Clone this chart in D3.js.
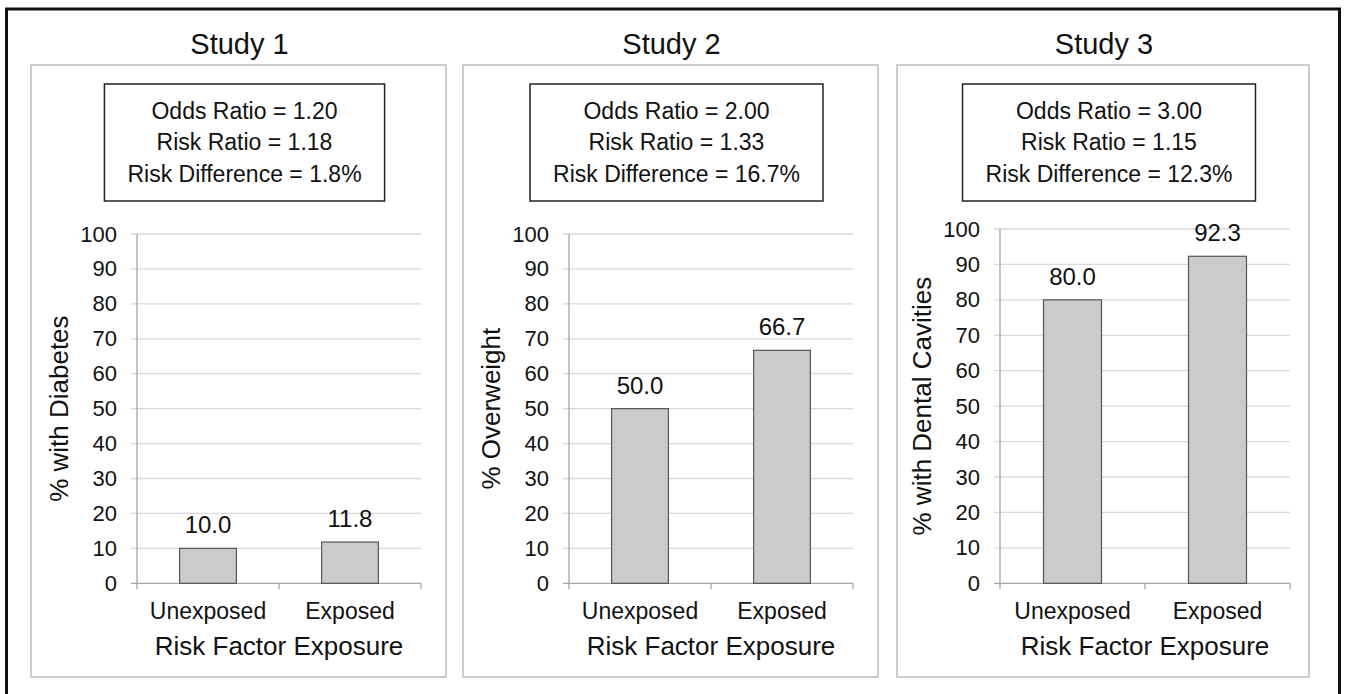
<!DOCTYPE html>
<html>
<head>
<meta charset="utf-8">
<script src="https://cdn.jsdelivr.net/npm/d3@7"></script>
<style>
  html, body { margin: 0; padding: 0; background: #fff; }
  svg { display: block; font-family: "Liberation Sans", Arial, sans-serif; }
</style>
</head>
<body>
<svg id="chart" width="1347" height="694"></svg>
<script>
// ---- data ----
const studies = ["Study 1", "Study 2", "Study 3"];
const categories = ["Unexposed", "Exposed"];
const unexposedPct = [10.0, 50.0, 80.0];
const exposedPct = [11.8, 66.7, 92.3];
const oddsRatios = ["1.20", "2.00", "3.00"];
const riskRatios = ["1.18", "1.33", "1.15"];
const riskDiffs = ["1.8%", "16.7%", "12.3%"];
const yAxisTitles = ["% with Diabetes", "% Overweight", "% with Dental Cavities"];
const yTicks = [0, 10, 20, 30, 40, 50, 60, 70, 80, 90, 100];
const xAxisTitle = "Risk Factor Exposure";

// ---- layout ----
const svg = d3.select("#chart");
const panelLefts = [31, 463, 897];
const panelWidths = [415, 415, 412];
const panelTop = 65, panelBottom = 677;
const plotLeftOff = [106, 106, 103];
const plotRightOff = [390, 390, 393];
const plotTops = [234, 234, 229];
const plotBottom = 583.3;

// outer frame
svg.append("rect")
  .attr("x", 6.5).attr("y", 9).attr("width", 1333).attr("height", 720)
  .attr("fill", "none").attr("stroke", "#111").attr("stroke-width", 3);

studies.forEach((name, i) => {
  const pl = panelLefts[i];
  const pw = panelWidths[i];
  const pcx = pl + pw / 2;

  // title
  svg.append("text")
    .attr("x", pcx + 1).attr("y", 54)
    .attr("text-anchor", "middle")
    .attr("font-size", 29).attr("fill", "#111")
    .text(name);

  // panel border
  svg.append("rect")
    .attr("x", pl).attr("y", panelTop)
    .attr("width", pw).attr("height", panelBottom - panelTop)
    .attr("fill", "#fff").attr("stroke", "#bdbdbd").attr("stroke-width", 1.5);

  // stats box
  const lines = [
    "Odds Ratio = " + oddsRatios[i],
    "Risk Ratio = " + riskRatios[i],
    "Risk Difference = " + riskDiffs[i]
  ];
  const boxG = svg.append("g");
  const boxRect = boxG.append("rect");
  const tcx = pcx + 6;
  const baselines = [119, 150, 182];
  let maxW = 0;
  lines.forEach((t, k) => {
    const el = boxG.append("text")
      .attr("x", tcx).attr("y", baselines[k])
      .attr("text-anchor", "middle")
      .attr("font-size", 23).attr("fill", "#111")
      .text(t);
    maxW = Math.max(maxW, el.node().getComputedTextLength());
  });
  const bw = maxW + 46;
  boxRect.attr("x", tcx - bw / 2).attr("y", 84)
    .attr("width", bw).attr("height", 117)
    .attr("fill", "#fff").attr("stroke", "#222").attr("stroke-width", 1.5);

  // plot
  const x0 = pl + plotLeftOff[i];
  const w = plotRightOff[i] - plotLeftOff[i];
  const y0 = plotTops[i];
  const h = plotBottom - y0;
  const g = svg.append("g").attr("transform", `translate(${x0},${y0})`);

  const x = d3.scaleBand().domain(categories).range([0, w])
    .paddingInner(0.6).paddingOuter(0.3);
  const y = d3.scaleLinear().domain([0, 100]).range([h, 0]);

  // gridlines
  g.selectAll("line.grid").data(yTicks).join("line")
    .attr("class", "grid")
    .attr("x1", -6).attr("x2", w)
    .attr("y1", d => y(d)).attr("y2", d => y(d))
    .attr("stroke", d => d === 0 ? "#a6a6a6" : "#d9d9d9")
    .attr("stroke-width", 1.3);

  // y axis line
  g.append("line")
    .attr("x1", 0).attr("x2", 0).attr("y1", 0).attr("y2", h)
    .attr("stroke", "#a6a6a6").attr("stroke-width", 1.3);

  // x boundary ticks
  g.selectAll("line.xtick").data([0, 1, 2]).join("line")
    .attr("class", "xtick")
    .attr("x1", d => d * x.step()).attr("x2", d => d * x.step())
    .attr("y1", h).attr("y2", h + 6)
    .attr("stroke", "#a6a6a6").attr("stroke-width", 1.3);

  // y tick labels
  const yAxis = g.append("g")
    .call(d3.axisLeft(y).tickValues(yTicks).tickSize(0).tickPadding(20));
  yAxis.select(".domain").remove();
  yAxis.selectAll("text").attr("font-size", 22).attr("fill", "#111")
    .attr("font-family", "Liberation Sans, Arial, sans-serif");

  // x category labels
  const xAxis = g.append("g").attr("transform", `translate(0,${h})`)
    .call(d3.axisBottom(x).tickSize(0).tickPadding(19));
  xAxis.select(".domain").remove();
  xAxis.selectAll("text").attr("font-size", 23).attr("fill", "#111")
    .attr("font-family", "Liberation Sans, Arial, sans-serif");

  // bars
  const vals = [unexposedPct[i], exposedPct[i]];
  g.selectAll("rect.bar").data(vals).join("rect")
    .attr("class", "bar")
    .attr("x", (d, k) => x(categories[k]))
    .attr("width", x.bandwidth())
    .attr("y", d => y(d))
    .attr("height", d => h - y(d))
    .attr("fill", "#cbcbcb").attr("stroke", "#555").attr("stroke-width", 1.2);

  // value labels
  g.selectAll("text.val").data(vals).join("text")
    .attr("class", "val")
    .attr("x", (d, k) => x(categories[k]) + x.bandwidth() / 2)
    .attr("y", d => y(d) - 15)
    .attr("text-anchor", "middle")
    .attr("font-size", 24).attr("fill", "#111")
    .text(d => d.toFixed(1));

  // y axis title
  g.append("text")
    .attr("transform", `translate(-69,${h / 2}) rotate(-90)`)
    .attr("text-anchor", "middle")
    .attr("font-size", 26).attr("fill", "#111")
    .text(yAxisTitles[i]);

  // x axis title
  g.append("text")
    .attr("x", w / 2).attr("y", h + 72)
    .attr("text-anchor", "middle")
    .attr("font-size", 26).attr("fill", "#111")
    .text(xAxisTitle);
});
</script>
</body>
</html>
